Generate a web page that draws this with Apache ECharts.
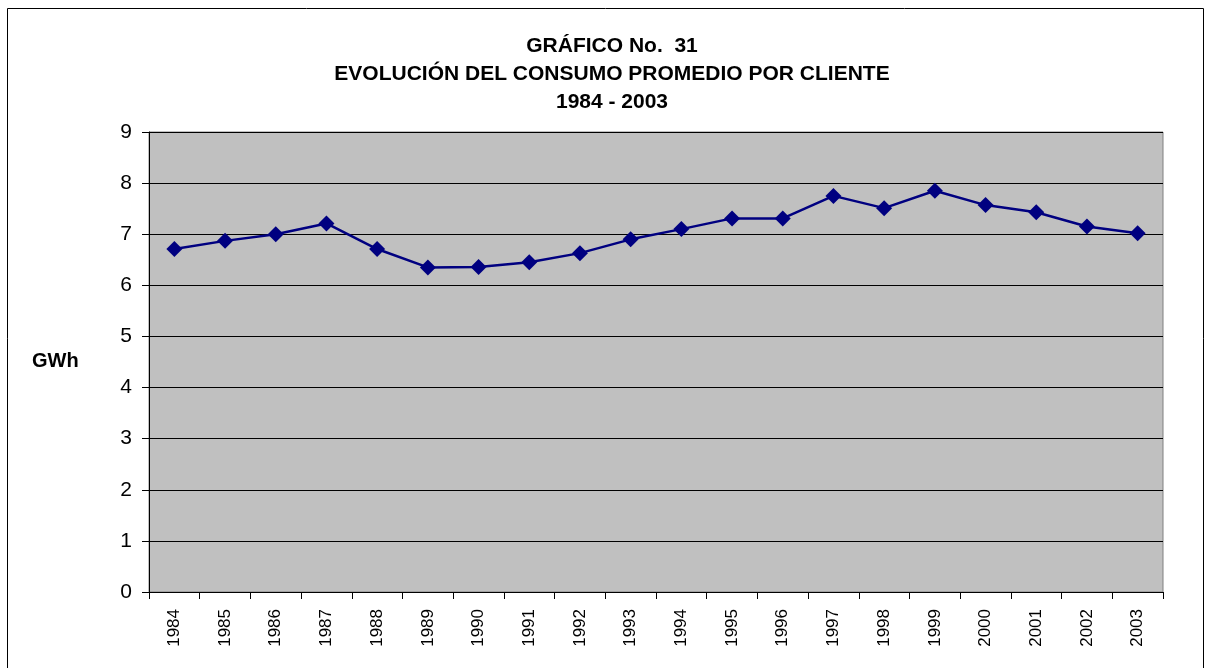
<!DOCTYPE html>
<html>
<head>
<meta charset="utf-8">
<script src="https://cdn.jsdelivr.net/npm/echarts@6/dist/echarts.min.js"></script>
<style>
html, body { margin: 0; padding: 0; background: #fff; }
#main { width: 1211px; height: 668px; }
</style>
</head>
<body>
<div id="main"></div>
<script>
// años
var years = ['1984','1985','1986','1987','1988','1989','1990','1991','1992','1993',
	'1994','1995','1996','1997','1998','1999','2000','2001','2002','2003'];
// consumo promedio por cliente (GWh)
var consumo = [6.71, 6.87, 7.0, 7.21, 6.71, 6.35, 6.36, 6.45, 6.63, 6.9,
	7.1, 7.31, 7.31, 7.75, 7.51, 7.85, 7.57, 7.43, 7.15, 7.02];
var yTicks = [0, 1, 2, 3, 4, 5, 6, 7, 8, 9];

var fontFam = 'Liberation Sans, Arial, sans-serif';
var myChart = echarts.init(document.getElementById('main'));
var option = {
	backgroundColor: '#fff',
	animation: false,
	title: {
		text: 'GRÁFICO No.  31\nEVOLUCIÓN DEL CONSUMO PROMEDIO POR CLIENTE\n1984 - 2003',
		left: 607,
		top: 27,
		textAlign: 'center',
		textStyle: {
			fontFamily: fontFam,
			fontSize: 21,
			fontWeight: 'bold',
			color: '#000',
			lineHeight: 28
		}
	},
	graphic: [
		{
			type: 'rect',
			shape: { x: 7.5, y: 8.5, width: 1196, height: 700 },
			style: { fill: 'none', stroke: '#000', lineWidth: 1 },
			silent: true
		},
		{
			type: 'text',
			left: 32,
			top: 351,
			style: { text: 'GWh', font: 'bold 20px ' + fontFam, fill: '#000' }
		}
	],
	grid: {
		left: 149,
		right: 48,
		top: 132,
		bottom: 76,
		show: true,
		backgroundColor: '#C0C0C0',
		borderColor: '#808080',
		borderWidth: 1
	},
	xAxis: {
		type: 'category',
		data: years,
		boundaryGap: true,
		axisLine: { lineStyle: { color: '#000', width: 1 } },
		axisTick: { show: true, alignWithLabel: false, length: 7, lineStyle: { color: '#000' } },
		axisLabel: {
			rotate: 90,
			margin: 17,
			interval: 0,
			fontFamily: fontFam,
			fontSize: 17,
			color: '#000'
		},
		splitLine: { show: false }
	},
	yAxis: {
		type: 'value',
		min: yTicks[0],
		max: yTicks[yTicks.length - 1],
		interval: 1,
		axisLine: { show: true, lineStyle: { color: '#000', width: 1 } },
		axisTick: { show: true, length: 7, lineStyle: { color: '#000' } },
		axisLabel: {
			margin: 17,
			fontFamily: fontFam,
			fontSize: 21,
			color: '#000'
		},
		splitLine: { show: true, lineStyle: { color: '#000', width: 1 } }
	},
	series: [
		{
			name: 'Consumo promedio',
			type: 'line',
			data: consumo,
			symbol: 'diamond',
			symbolSize: 16,
			itemStyle: { color: '#000080' },
			lineStyle: { color: '#000080', width: 2.5 }
		}
	]
};
myChart.setOption(option);
</script>
</body>
</html>
